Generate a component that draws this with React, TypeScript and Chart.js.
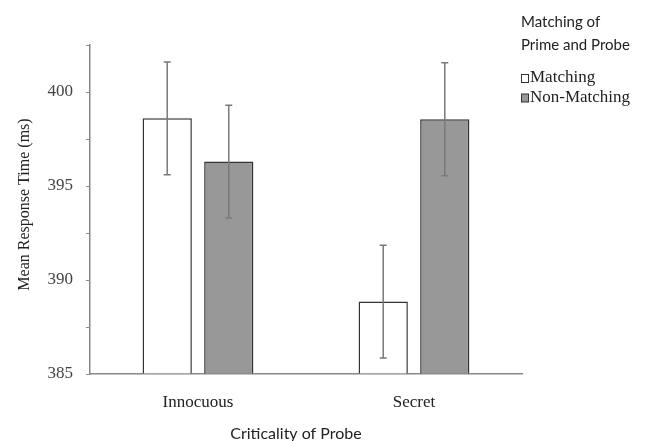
import React, { useEffect, useRef } from 'react';
import { Chart, registerables } from 'chart.js';

Chart.register(...registerables);

const categories = ['Innocuous', 'Secret'];
const seriesNames = ['Matching', 'Non-Matching'];
const matchingValues = [398.6, 388.85];
const nonMatchingValues = [396.3, 398.55];
const matchingErrors = [3.0, 3.0];
const nonMatchingErrors = [3.0, 3.0];
const yMin = 385;
const yMax = 402.5;
const yStep = 2.5;
const yLabelEvery = 5;
const xTitle = 'Criticality of Probe';
const yTitle = 'Mean Response Time (ms)';
const legendTitle = ['Matching of', 'Prime and Probe'];

const SERIF = '"Liberation Serif", "Times New Roman", serif';
const SANS = 'Lato, "Liberation Sans", sans-serif';
const fills = ['#ffffff', '#989898'];
const borders = ['#333333', '#333333'];

export default function App() {
  const ref = useRef<HTMLCanvasElement | null>(null);

  useEffect(() => {
    if (!ref.current) return;
    const errors = [matchingErrors, nonMatchingErrors];

    const errorBars = {
      id: 'errorBars',
      afterDatasetsDraw(chart: any) {
        const ctx = chart.ctx;
        const y = chart.scales.y;
        ctx.save();
        ctx.strokeStyle = '#7a7a7a';
        ctx.lineWidth = 1.5;
        chart.data.datasets.forEach((ds: any, di: number) => {
          const meta = chart.getDatasetMeta(di);
          meta.data.forEach((el: any, i: number) => {
            const v = ds.data[i];
            const e = errors[di][i];
            const yt = y.getPixelForValue(v + e);
            const yb = y.getPixelForValue(v - e);
            const x = el.x;
            ctx.beginPath();
            ctx.moveTo(x, yt);
            ctx.lineTo(x, yb);
            ctx.moveTo(x - 3.5, yt);
            ctx.lineTo(x + 3.5, yt);
            ctx.moveTo(x - 3.5, yb);
            ctx.lineTo(x + 3.5, yb);
            ctx.stroke();
          });
        });
        ctx.restore();
      },
    };

    const decorations = {
      id: 'decorations',
      afterDraw(chart: any) {
        const ctx = chart.ctx;
        const a = chart.chartArea;
        ctx.save();
        // y title
        ctx.fillStyle = '#222';
        ctx.font = '16px ' + SERIF;
        ctx.textAlign = 'center';
        ctx.textBaseline = 'middle';
        ctx.translate(a.left - 65, (a.top + a.bottom) / 2 - 5);
        ctx.rotate(-Math.PI / 2);
        ctx.fillText(yTitle, 0, 0);
        ctx.restore();

        ctx.save();
        ctx.fillStyle = '#222';
        ctx.font = '16px ' + SANS;
        ctx.textAlign = 'center';
        ctx.textBaseline = 'middle';
        ctx.fillText(xTitle, (a.left + a.right) / 2 - 10, a.bottom + 60);

        // legend
        const lx = a.right - 1;
        ctx.textAlign = 'left';
        ctx.font = '15px ' + SANS;
        legendTitle.forEach((t, i) => ctx.fillText(t, lx, 22 + i * 23));
        ctx.font = '17px ' + SERIF;
        seriesNames.forEach((name, i) => {
          const cy = 78 + i * 19.5;
          ctx.fillStyle = fills[i];
          ctx.strokeStyle = borders[i];
          ctx.lineWidth = 1;
          ctx.fillRect(lx + 0.5, cy - 3.5, 7, 8);
          ctx.strokeRect(lx + 0.5, cy - 3.5, 7, 8);
          ctx.fillStyle = '#222';
          ctx.fillText(name, lx + 9, cy);
        });
        ctx.restore();
      },
    };

    const chart = new Chart(ref.current, {
      type: 'bar',
      data: {
        labels: categories,
        datasets: [
          {
            label: seriesNames[0],
            data: matchingValues,
            base: yMin,
            backgroundColor: fills[0],
            borderColor: borders[0],
            borderWidth: 1.5,
            categoryPercentage: 0.57,
            barPercentage: 0.8,
          } as any,
          {
            label: seriesNames[1],
            data: nonMatchingValues,
            base: yMin,
            backgroundColor: fills[1],
            borderColor: borders[1],
            borderWidth: 1.5,
            categoryPercentage: 0.57,
            barPercentage: 0.8,
          } as any,
        ],
      },
      options: {
        responsive: false,
        animation: false,
        layout: { padding: { top: 45, right: 126, left: 0, bottom: 0 } },
        plugins: { legend: { display: false }, tooltip: { enabled: false } },
        scales: {
          x: {
            grid: { display: false },
            border: { display: true, color: '#888', width: 1.5 },
            ticks: { font: { family: SERIF, size: 17 }, color: '#222', padding: 10 },
            afterFit: (s: any) => { s.height = 67; },
          },
          y: {
            min: yMin,
            max: yMax,
            grid: { display: true, drawOnChartArea: false, drawTicks: true, tickLength: 4, color: '#888' },
            border: { display: true, color: '#888', width: 1.5 },
            ticks: {
              stepSize: yStep,
              autoSkip: false,
              padding: 13,
              color: '#444',
              font: { family: SERIF, size: 17 },
              callback: (v: any) => (Number(v) % yLabelEvery === 0 ? String(v) : ''),
            },
            afterFit: (s: any) => { s.width = 90; },
          },
        },
      },
      plugins: [errorBars, decorations],
    });
    return () => chart.destroy();
  }, []);

  return (
    <div style={{ position: 'absolute', left: 0, top: 0, width: 648, height: 441, background: '#fff' }}>
      <canvas ref={ref} width={648} height={441} />
    </div>
  );
}
